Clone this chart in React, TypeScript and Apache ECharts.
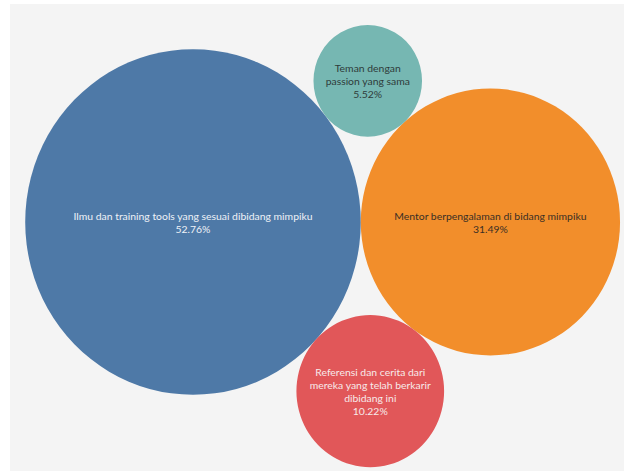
import React, { useEffect, useRef } from "react";
import * as echarts from "echarts";

const categories = [
  "Ilmu dan training tools yang sesuai dibidang mimpiku",
  "Mentor berpengalaman di bidang mimpiku",
  "Referensi dan cerita dari\nmereka yang telah berkarir\ndibidang ini",
  "Teman dengan\npassion yang sama",
];
const shares = [52.76, 31.49, 10.22, 5.52];
const colors = ["#4e79a7", "#f28e2b", "#e15759", "#76b7b2"];
const labelColors = ["#eef2f7", "#3a2e25", "#f7eaea", "#2f3b3a"];

const SIZE_K = 23.1; // px radius per sqrt(percent)
const Y_STRETCH = 1.03; // picture's slight vertical stretch

function tangent(rA: number, rB: number, d: number, r: number, sign: number) {
  const dA = rA + r;
  const dB = rB + r;
  const x = (dA * dA - dB * dB + d * d) / (2 * d);
  const h = Math.sqrt(Math.max(0, dA * dA - x * x));
  return [x, sign * h];
}

export default function App() {
  const ref = useRef<HTMLDivElement>(null);
  useEffect(() => {
    if (!ref.current) return;
    const chart = echarts.init(ref.current, undefined, { renderer: "svg" });
    const radii = shares.map((v) => Math.sqrt(v) * SIZE_K);
    const d = radii[0] + radii[1];
    const pos = [
      [0, 0],
      [d, 0],
      tangent(radii[0], radii[1], d, radii[2], -1),
      tangent(radii[0], radii[1], d, radii[3], 1),
    ];
    const data = shares.map((v, i) => ({
      name: categories[i],
      value: [pos[i][0], pos[i][1] * Y_STRETCH, v],
      symbolSize: [radii[i] * 2, radii[i] * 2 * Y_STRETCH],
      itemStyle: { color: colors[i], opacity: 1 },
      label: { color: labelColors[i] },
    }));
    chart.setOption({
      animation: false,
      graphic: [
        {
          type: "rect",
          z: -10,
          shape: { x: 10, y: 4, width: 614, height: 467 },
          style: { fill: "#f4f4f4" },
        },
      ],
      grid: { left: 0, right: 0, top: 0, bottom: 0, containLabel: false },
      xAxis: { type: "value", min: -193, max: 431, show: false },
      yAxis: { type: "value", min: -249, max: 222, show: false },
      series: [
        {
          type: "scatter",
          symbol: "circle",
          data,
          label: {
            show: true,
            position: "inside",
            fontFamily: "Lato",
            fontSize: 10.4,
            lineHeight: 13,
            align: "center",
            formatter: (p: any) => p.name + "\n" + p.value[2].toFixed(2) + "%",
          },
          emphasis: { disabled: true },
        },
      ],
    });
    return () => chart.dispose();
  }, []);
  return (
    <div
      ref={ref}
      style={{ position: "absolute", left: 0, top: 0, width: 624, height: 471, background: "#ffffff" }}
    />
  );
}
